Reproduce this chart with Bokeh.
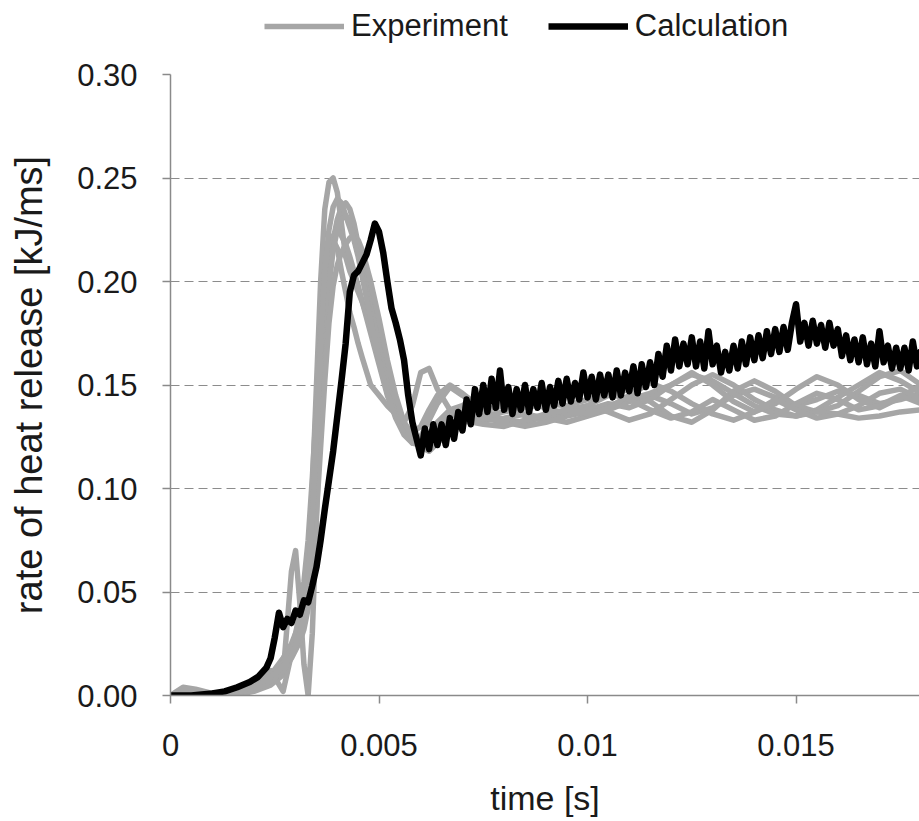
from bokeh.plotting import figure
from bokeh.layouts import column
from bokeh.models import FixedTicker, Range1d, Legend, LegendItem
from bokeh.embed import file_html
from bokeh.resources import INLINE

# ---------------- data ----------------
x_ticks = [0, 0.005, 0.01, 0.015]
x_tick_labels = ["0", "0.005", "0.01", "0.015"]
y_ticks = [0.0, 0.05, 0.10, 0.15, 0.20, 0.25, 0.30]
y_tick_labels = ["0.00", "0.05", "0.10", "0.15", "0.20", "0.25", "0.30"]
series_names = ["Experiment", "Calculation"]

# Experiment: common time samples [s]
exp_t = [0, 0.0003, 0.0006, 0.001, 0.0015, 0.002, 0.0024,
         0.0027, 0.0029, 0.0030, 0.0031, 0.0032, 0.0033, 0.0034, 0.0035, 0.0036, 0.0037, 0.0038, 0.0039,
         0.0040, 0.0041, 0.0042, 0.0043, 0.0044, 0.0045, 0.0046, 0.0048, 0.0050, 0.0052, 0.0054, 0.0056, 0.0058,
         0.0060, 0.0062, 0.0064, 0.0067, 0.0070, 0.0075, 0.0080, 0.0085, 0.0090, 0.0095, 0.0100, 0.0105, 0.0110, 0.0115,
         0.0120, 0.0125, 0.0130, 0.0135, 0.0140, 0.0145, 0.0150, 0.0155, 0.0160, 0.0165, 0.0170, 0.0175, 0.0180]

exp1 = [0.000, 0.004, 0.003, 0.001, 0.001, 0.003, 0.008,
        0.015, 0.020, 0.025, 0.030, 0.040, 0.060, 0.100, 0.150, 0.200, 0.235, 0.248, 0.250,
        0.243, 0.228, 0.212, 0.205, 0.200, 0.195, 0.190, 0.178, 0.165, 0.152, 0.140, 0.130, 0.124,
        0.122, 0.125, 0.132, 0.138, 0.136, 0.133, 0.134, 0.136, 0.134, 0.132, 0.135, 0.138, 0.142, 0.145,
        0.141, 0.136, 0.139, 0.145, 0.148, 0.144, 0.140, 0.143, 0.147, 0.145, 0.141, 0.143, 0.146]
exp2 = [0.000, 0.001, 0.001, 0.000, 0.000, 0.002, 0.005,
        0.010, 0.060, 0.070, 0.045, 0.015, 0.000, 0.030, 0.085, 0.140, 0.180, 0.205, 0.220,
        0.230, 0.236, 0.238, 0.235, 0.228, 0.218, 0.208, 0.190, 0.172, 0.155, 0.140, 0.130, 0.127,
        0.130, 0.138, 0.145, 0.150, 0.146, 0.138, 0.133, 0.132, 0.135, 0.138, 0.140, 0.137, 0.133, 0.136,
        0.143, 0.150, 0.155, 0.150, 0.143, 0.138, 0.135, 0.138, 0.144, 0.150, 0.156, 0.152, 0.146]
exp3 = [0.000, 0.000, 0.000, 0.000, 0.001, 0.004, 0.010,
        0.018, 0.025, 0.030, 0.035, 0.042, 0.055, 0.080, 0.115, 0.155, 0.190, 0.212, 0.222,
        0.225, 0.222, 0.218, 0.212, 0.205, 0.198, 0.190, 0.175, 0.160, 0.145, 0.135, 0.132, 0.140,
        0.156, 0.158, 0.148, 0.138, 0.140, 0.146, 0.140, 0.135, 0.133, 0.136, 0.140, 0.145, 0.148, 0.142,
        0.135, 0.132, 0.138, 0.147, 0.152, 0.147, 0.140, 0.137, 0.140, 0.147, 0.154, 0.157, 0.150]
exp4 = [0.000, 0.001, 0.001, 0.000, 0.002, 0.006, 0.012,
        0.002, 0.020, 0.030, 0.040, 0.055, 0.075, 0.105, 0.140, 0.175, 0.200, 0.215, 0.220,
        0.216, 0.205, 0.195, 0.185, 0.178, 0.170, 0.163, 0.150, 0.145, 0.140, 0.136, 0.132, 0.126,
        0.120, 0.118, 0.122, 0.128, 0.132, 0.134, 0.132, 0.130, 0.132, 0.135, 0.137, 0.140, 0.143, 0.146,
        0.150, 0.155, 0.152, 0.146, 0.140, 0.136, 0.135, 0.137, 0.136, 0.134, 0.135, 0.137, 0.138]
exp5 = [0.000, 0.000, 0.001, 0.001, 0.002, 0.005, 0.010,
        0.016, 0.022, 0.026, 0.030, 0.036, 0.048, 0.070, 0.100, 0.135, 0.170, 0.198, 0.215,
        0.225, 0.230, 0.232, 0.229, 0.222, 0.214, 0.205, 0.188, 0.170, 0.152, 0.137, 0.127, 0.122,
        0.125, 0.133, 0.141, 0.149, 0.145, 0.138, 0.140, 0.142, 0.139, 0.136, 0.138, 0.141, 0.139, 0.143,
        0.150, 0.156, 0.150, 0.142, 0.137, 0.141, 0.148, 0.154, 0.150, 0.143, 0.139, 0.144, 0.150]
exp6 = [0.000, 0.000, 0.000, 0.001, 0.001, 0.003, 0.007,
        0.012, 0.018, 0.022, 0.026, 0.032, 0.042, 0.060, 0.088, 0.120, 0.152, 0.180, 0.198,
        0.208, 0.214, 0.218, 0.221, 0.222, 0.220, 0.215, 0.200, 0.182, 0.162, 0.145, 0.132, 0.125,
        0.123, 0.126, 0.131, 0.135, 0.137, 0.135, 0.137, 0.139, 0.141, 0.140, 0.143, 0.146, 0.143, 0.138,
        0.134, 0.137, 0.143, 0.138, 0.133, 0.135, 0.141, 0.146, 0.143, 0.138, 0.140, 0.145, 0.141]
exp7 = [0.000, 0.002, 0.002, 0.001, 0.001, 0.004, 0.009,
        0.014, 0.019, 0.024, 0.029, 0.038, 0.055, 0.085, 0.125, 0.170, 0.205, 0.225, 0.236,
        0.240, 0.238, 0.232, 0.226, 0.220, 0.212, 0.202, 0.182, 0.162, 0.146, 0.134, 0.126, 0.122,
        0.121, 0.124, 0.128, 0.132, 0.133, 0.131, 0.130, 0.133, 0.136, 0.138, 0.136, 0.139, 0.145, 0.151,
        0.147, 0.141, 0.136, 0.133, 0.137, 0.143, 0.138, 0.134, 0.136, 0.140, 0.146, 0.148, 0.143]

# Calculation: early coarse samples, then 0.1 ms samples from 2.5 ms to 18 ms
calc_t_early = [0, 0.0005, 0.001, 0.0013, 0.0016, 0.0019, 0.0021, 0.0023, 0.0024]
calc_v_early = [0.000, 0.000, 0.001, 0.002, 0.004, 0.0065, 0.009, 0.0135, 0.018]
calc_t0 = 0.0025
calc_dt = 0.0001
calc_v_dense = [
    0.028, 0.040, 0.033, 0.037, 0.035, 0.041, 0.039, 0.046, 0.045, 0.053,
    0.062, 0.075, 0.090, 0.104, 0.118, 0.135, 0.152, 0.170, 0.195, 0.203,
    0.205, 0.209, 0.213, 0.220, 0.228, 0.224, 0.214, 0.200, 0.187, 0.180,
    0.172, 0.162, 0.145, 0.132, 0.124, 0.116, 0.129, 0.119, 0.131, 0.121,
    0.131, 0.121, 0.134, 0.124, 0.137, 0.128, 0.143, 0.131, 0.148, 0.136,
    0.150, 0.137, 0.153, 0.139, 0.157, 0.138, 0.149, 0.136, 0.148, 0.138,
    0.150, 0.137, 0.148, 0.139, 0.151, 0.138, 0.149, 0.140, 0.152, 0.141,
    0.153, 0.142, 0.151, 0.143, 0.156, 0.144, 0.154, 0.143, 0.155, 0.145,
    0.155, 0.144, 0.157, 0.145, 0.156, 0.147, 0.159, 0.146, 0.160, 0.149,
    0.161, 0.150, 0.165, 0.154, 0.169, 0.157, 0.172, 0.159, 0.170, 0.160,
    0.173, 0.159, 0.171, 0.158, 0.176, 0.160, 0.169, 0.156, 0.166, 0.157,
    0.169, 0.158, 0.171, 0.160, 0.173, 0.162, 0.174, 0.163, 0.176, 0.165,
    0.177, 0.166, 0.178, 0.167, 0.180, 0.189, 0.171, 0.180, 0.169, 0.181,
    0.170, 0.179, 0.168, 0.180, 0.169, 0.177, 0.164, 0.174, 0.162, 0.172,
    0.161, 0.173, 0.160, 0.170, 0.159, 0.176, 0.161, 0.169, 0.158, 0.168,
    0.158, 0.168, 0.157, 0.171, 0.159, 0.167,
]
calc_t = calc_t_early + [round(calc_t0 + i * calc_dt, 5) for i in range(len(calc_v_dense))]
calc_v = calc_v_early + calc_v_dense

# ---------------- style ----------------
FONT = "Liberation Sans"
TXT = "#1a1a1a"
AX = "#8a8a8a"
GRAY = "#a6a6a6"
W = 919
LEG_H = 54

xr = Range1d(0, 0.01796)

# main chart
p = figure(width=W, height=821 - LEG_H, output_backend="svg", toolbar_location=None,
           x_range=xr, y_range=Range1d(0, 0.30),
           min_border_left=170, min_border_right=0, min_border_top=20, min_border_bottom=126,
           background_fill_color="white", border_fill_color="white")
p.outline_line_color = None

p.xgrid.grid_line_color = None
p.ygrid.grid_line_color = "#8c8c8c"
p.ygrid.grid_line_dash = "9 5"
p.ygrid.grid_line_width = 1

p.xaxis.ticker = FixedTicker(ticks=x_ticks)
p.xaxis.major_label_overrides = {t: l for t, l in zip(x_ticks, x_tick_labels)}
p.yaxis.ticker = FixedTicker(ticks=y_ticks)
p.yaxis.major_label_overrides = {t: l for t, l in zip(y_ticks, y_tick_labels)}

for ax in (p.xaxis[0], p.yaxis[0]):
    ax.axis_line_color = AX
    ax.axis_line_width = 1.5
    ax.major_tick_line_color = AX
    ax.major_tick_line_width = 1.5
    ax.major_tick_in = 0
    ax.major_tick_out = 8
    ax.minor_tick_line_color = None
    ax.major_label_text_font = FONT
    ax.major_label_text_font_size = "31px"
    ax.major_label_text_color = TXT
    ax.axis_label_text_font = FONT
    ax.axis_label_text_font_style = "normal"
    ax.axis_label_text_color = TXT

p.xaxis.major_label_standoff = 30
p.xaxis.axis_label = "time [s]"
p.xaxis.axis_label_text_font_size = "34px"
p.xaxis.axis_label_standoff = 20

p.yaxis.major_label_standoff = 25
p.yaxis.axis_label = "rate of heat release [kJ/ms]"
p.yaxis.axis_label_text_font_size = "38px"
p.yaxis.axis_label_standoff = 24

for ys in (exp1, exp2, exp3, exp4, exp5, exp6, exp7):
    p.line(exp_t, ys, line_color=GRAY, line_width=5.5, line_join="round", line_cap="round")

p.line(calc_t, calc_v, line_color="black", line_width=6.5, line_join="round")

# legend strip above the chart (its lines carry the same series, drawn out of view)
lg = figure(width=W, height=LEG_H, output_backend="svg", toolbar_location=None,
            x_range=xr, y_range=Range1d(1, 2),
            x_axis_location=None, y_axis_location=None,
            min_border_left=170, min_border_right=0, min_border_top=0, min_border_bottom=0,
            background_fill_color="white", border_fill_color="white")
lg.outline_line_color = None
lg.grid.visible = False
r_exp_key = lg.line(exp_t, exp1, line_color=GRAY, line_width=5.5)
r_calc_key = lg.line(calc_t, calc_v, line_color="black", line_width=6.5)

legend = Legend(items=[LegendItem(label=series_names[0], renderers=[r_exp_key]),
                       LegendItem(label=series_names[1], renderers=[r_calc_key])],
                orientation="horizontal", location=(94, 10),
                border_line_color=None, background_fill_alpha=0,
                padding=0, margin=0, spacing=40,
                glyph_width=80, glyph_height=30, label_standoff=7,
                label_text_font=FONT, label_text_font_size="31px", label_text_color=TXT)
lg.add_layout(legend)

layout = column(lg, p, spacing=0)
open("out.html", "w").write(file_html(layout, INLINE))
